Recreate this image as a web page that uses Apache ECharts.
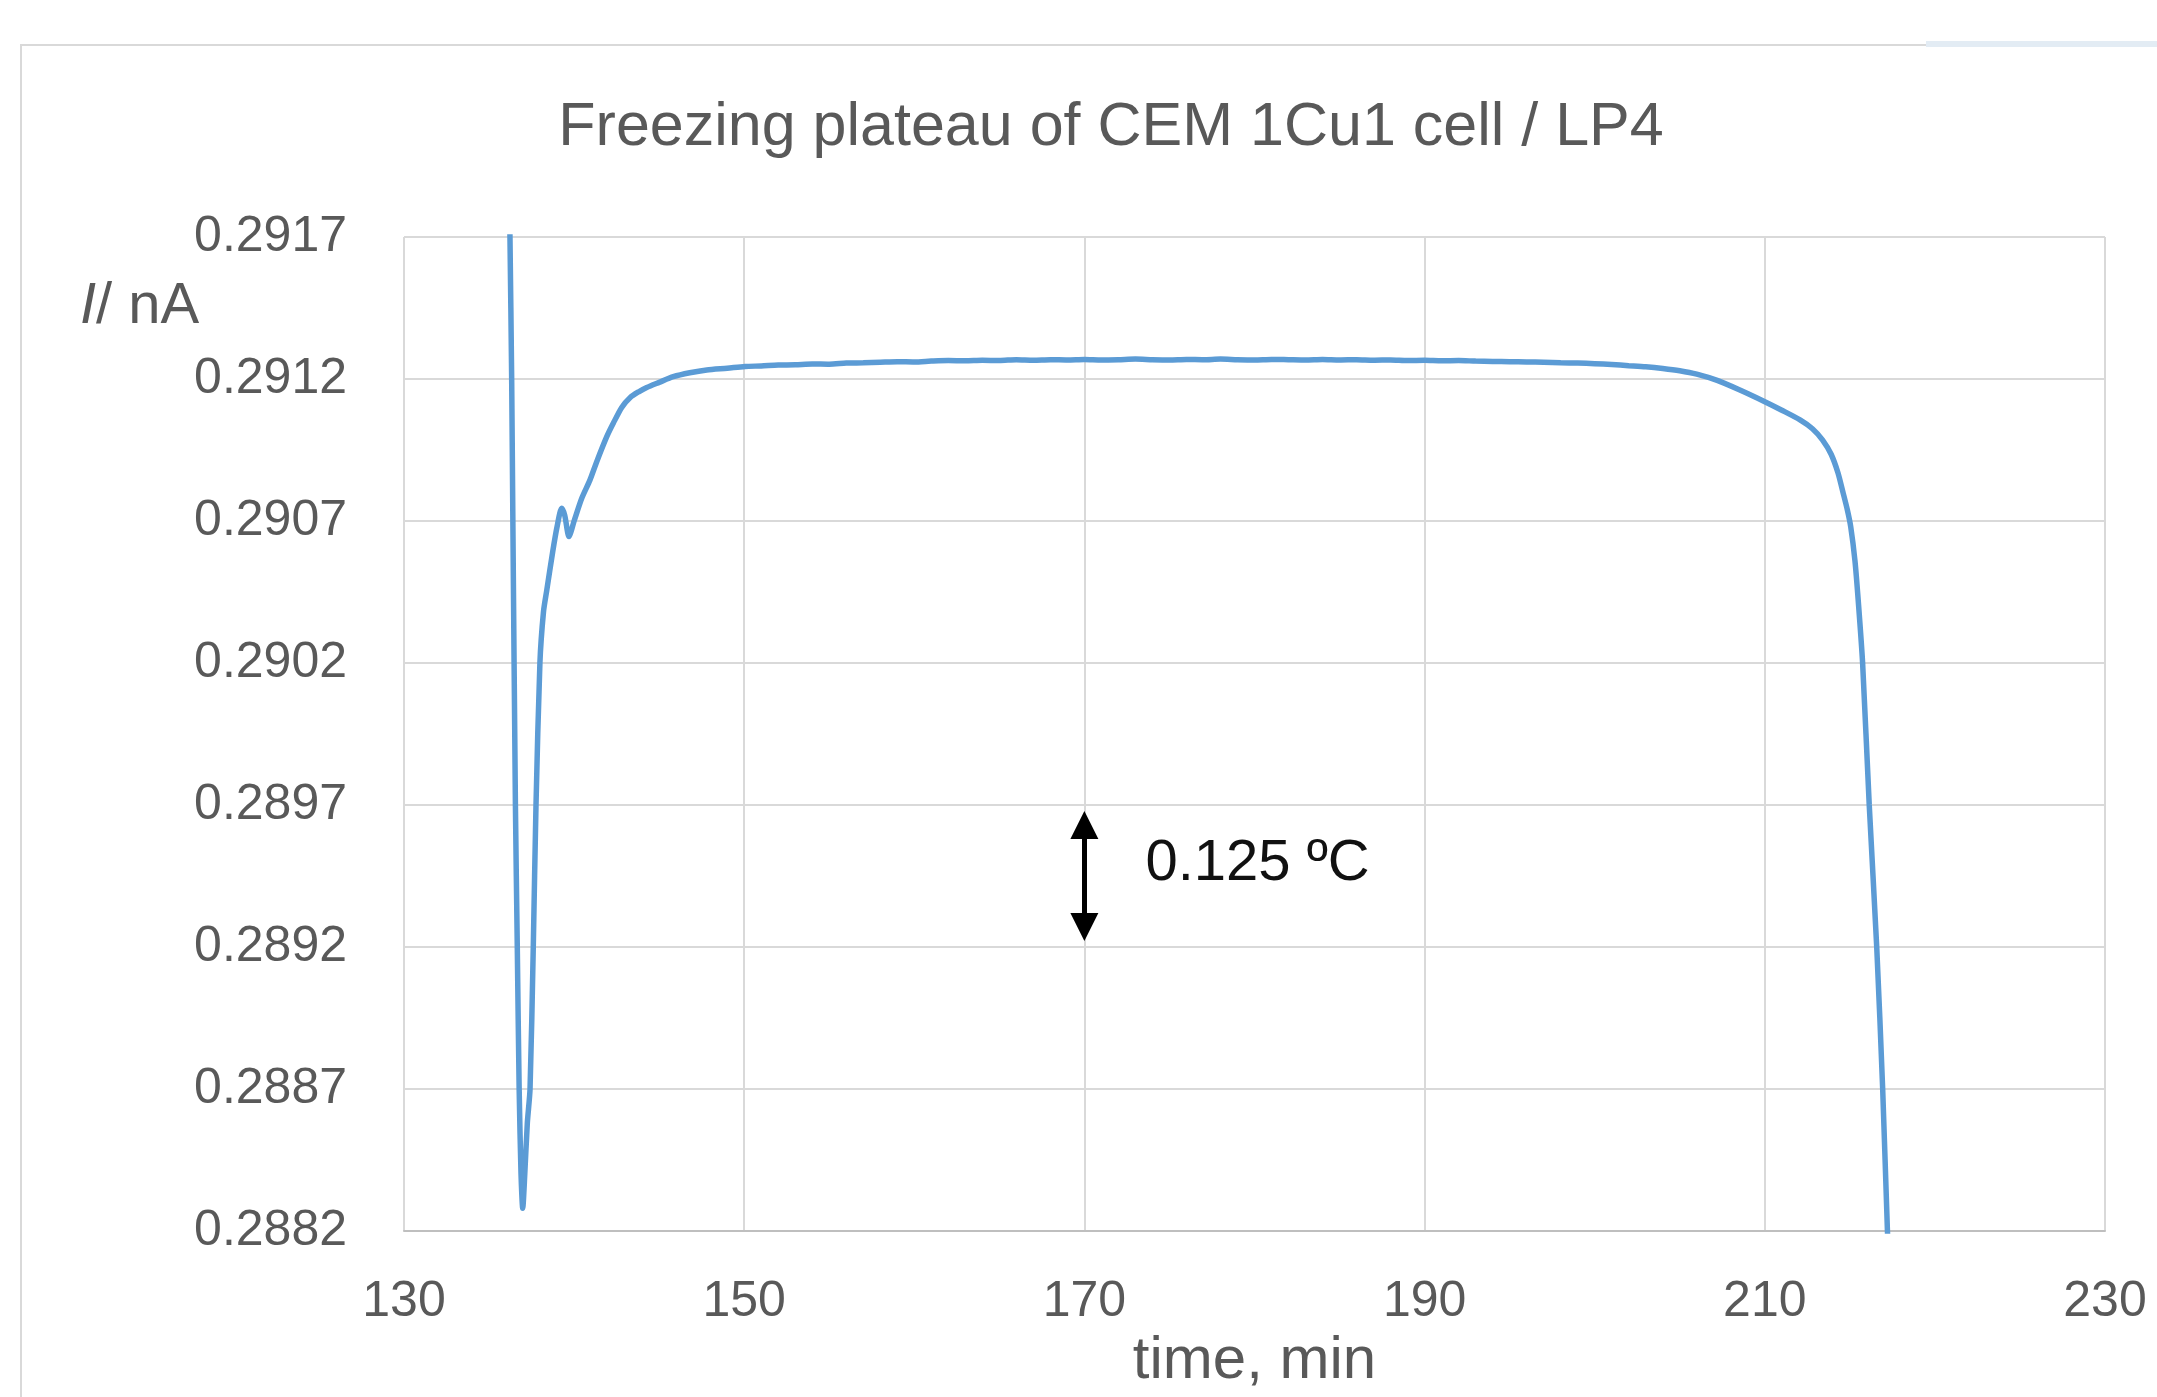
<!DOCTYPE html>
<html>
<head>
<meta charset="utf-8">
<script src="https://cdn.jsdelivr.net/npm/echarts@6/dist/echarts.min.js"></script>
<style>
html,body{margin:0;padding:0;background:#fff;}
#chart{width:2157px;height:1397px;}
</style>
</head>
<body>
<div id="chart"></div>
<script>
// ---- data ----
const titleText = 'Freezing plateau of CEM 1Cu1 cell / LP4';
const xName = 'time, min';
const xTicks = [130, 150, 170, 190, 210, 230];
const yTicks = [0.2882, 0.2887, 0.2892, 0.2897, 0.2902, 0.2907, 0.2912, 0.2917];

const timeMin = [
  136.05, 136.23, 136.33, 136.40, 136.55, 136.66, 136.77, 136.88, 136.98, 137.10,
  137.25, 137.41, 137.60, 137.76, 137.99, 138.20, 138.39, 138.74, 139.00, 139.27,
  139.45, 139.70, 140.00, 140.45, 140.93, 141.33, 141.92, 142.31, 142.80, 143.30,
  143.80, 144.27, 145.00, 145.83, 146.80, 147.80, 149.00, 150.05, 151, 152,
  153, 154, 155, 156, 157, 158, 159, 160, 161, 162,
  163, 164, 165, 166, 167, 168, 169, 170, 171, 172,
  173, 174, 175, 176, 177, 178, 179, 180, 181, 182,
  183, 184, 185, 186, 187, 188, 189, 190, 191, 192,
  193, 194, 195, 196, 197, 198, 199, 200, 201, 202,
  203, 204, 205, 206, 207.2, 208.5, 210, 211, 212.07, 212.8,
  213.4, 213.9, 214.3, 214.6, 214.85, 215.05, 215.3, 215.5, 215.75, 216.14,
  216.58, 216.93, 217.21, 217.40
];
const currentNA = [
  0.29250, 0.29170, 0.29120, 0.29070, 0.28970, 0.28920, 0.28870, 0.28840, 0.28828, 0.28840,
  0.28858, 0.28870, 0.28920, 0.28970, 0.29020, 0.29038, 0.290455, 0.290591, 0.29068, 0.290745,
  0.29072, 0.290645, 0.29070, 0.29078, 0.290844, 0.290909, 0.290997, 0.291045, 0.291100, 0.291135,
  0.291155, 0.291170, 0.291188, 0.291208, 0.291222, 0.291232, 0.291238, 0.291244, 0.291246, 0.291249,
  0.291250, 0.291253, 0.291252, 0.291256, 0.291257, 0.291259, 0.291261, 0.291260, 0.291263, 0.291265,
  0.291264, 0.291266, 0.291265, 0.291268, 0.291266, 0.291268, 0.291267, 0.291269, 0.291267, 0.291268,
  0.291270, 0.291268, 0.291267, 0.291269, 0.291268, 0.291270, 0.291268, 0.291267, 0.291269, 0.291268,
  0.291267, 0.291269, 0.291267, 0.291268, 0.291266, 0.291267, 0.291265, 0.291266, 0.291264, 0.291265,
  0.291263, 0.291262, 0.291261, 0.291260, 0.291259, 0.291257, 0.291256, 0.291254, 0.291251, 0.291247,
  0.291243, 0.291237, 0.291229, 0.291217, 0.291195, 0.291162, 0.291120, 0.291090, 0.291056, 0.291025,
  0.290985, 0.290935, 0.290870, 0.290800, 0.290740, 0.290680, 0.290560, 0.290414, 0.290200, 0.289700,
  0.289200, 0.288700, 0.288200, 0.287900
];

// annotation (double arrow at t = 170 and its label)
const arrowTime = 170;
const arrowFrom = 0.28927;
const arrowTo = 0.28963;
const arrowLabelValue = 0.289492;
const arrowLabel = '0.125 ºC';

// ---- build chart ----
const yMin = yTicks[0];
const yMax = yTicks[yTicks.length - 1];
const yStep = yTicks[1] - yTicks[0];
const SCALE = 10000; // axis works in units of 1e-4 nA above yMin
const toAxis = v => (v - yMin) * SCALE;

const seriesData = timeMin.map((t, i) => [t, toAxis(currentNA[i])]);

const FONT = "'Liberation Sans', Arial, sans-serif";
const GREY = '#595959';

const chart = echarts.init(document.getElementById('chart'), null, {renderer: 'canvas'});
chart.setOption({
  animation: false,
  backgroundColor: '#ffffff',
  grid: {left: 404, right: 52, top: 237, bottom: 166, containLabel: false},
  xAxis: {
    type: 'value',
    min: xTicks[0],
    max: xTicks[xTicks.length - 1],
    interval: xTicks[1] - xTicks[0],
    name: xName,
    nameLocation: 'middle',
    nameGap: 100,
    nameTextStyle: {color: GREY, fontSize: 60, fontFamily: FONT},
    axisLine: {show: true, lineStyle: {color: '#BFBFBF', width: 2}},
    axisTick: {show: false},
    axisLabel: {color: GREY, fontSize: 50, fontFamily: FONT, margin: 46},
    splitLine: {show: true, lineStyle: {color: '#D9D9D9', width: 2}}
  },
  yAxis: {
    type: 'value',
    min: 0,
    max: Math.round((yMax - yMin) * SCALE),
    interval: Math.round(yStep * SCALE),
    axisLine: {show: false},
    axisTick: {show: false},
    axisLabel: {
      color: GREY, fontSize: 50, fontFamily: FONT, margin: 57,
      formatter: v => (yMin + v / SCALE).toFixed(4)
    },
    splitLine: {show: true, lineStyle: {color: '#D9D9D9', width: 2}}
  },
  graphic: [
    {type: 'rect', z: -10, shape: {x: 21, y: 45, width: 2300, height: 1500},
     style: {fill: 'none', stroke: '#D9D9D9', lineWidth: 2}},
    {type: 'rect', z: -9, shape: {x: 1926, y: 41, width: 240, height: 6},
     style: {fill: '#E3ECF4'}},
    {type: 'text', x: 1111, y: 128,
     style: {text: titleText, fill: GREY, fontSize: 61, fontFamily: FONT,
             align: 'center', verticalAlign: 'middle'}},
    {type: 'text', x: 80, y: 307,
     style: {text: '{i|I}/ nA', fill: GREY, fontSize: 58, fontFamily: FONT,
             align: 'left', verticalAlign: 'middle',
             rich: {i: {fontStyle: 'italic', fontSize: 58, fontFamily: FONT, fill: GREY}}}}
  ],
  series: [{
    type: 'line',
    data: seriesData,
    showSymbol: false,
    symbol: 'none',
    smooth: 0.25,
    clip: true,
    lineStyle: {color: '#5B9BD5', width: 5.5},
    markLine: {
      silent: true,
      symbol: ['triangle', 'triangle'],
      symbolSize: [28, 28],
      lineStyle: {color: '#000000', width: 5, type: 'solid'},
      label: {show: false},
      data: [[{coord: [arrowTime, toAxis(arrowFrom)]}, {coord: [arrowTime, toAxis(arrowTo)]}]]
    },
    markPoint: {
      silent: true,
      symbol: 'circle',
      symbolSize: 0,
      data: [{
        coord: [arrowTime, toAxis(arrowLabelValue)],
        label: {show: true, position: 'right', distance: 61, formatter: arrowLabel,
                color: '#111111', fontSize: 58, fontFamily: FONT}
      }]
    }
  }]
});
</script>
</body>
</html>
